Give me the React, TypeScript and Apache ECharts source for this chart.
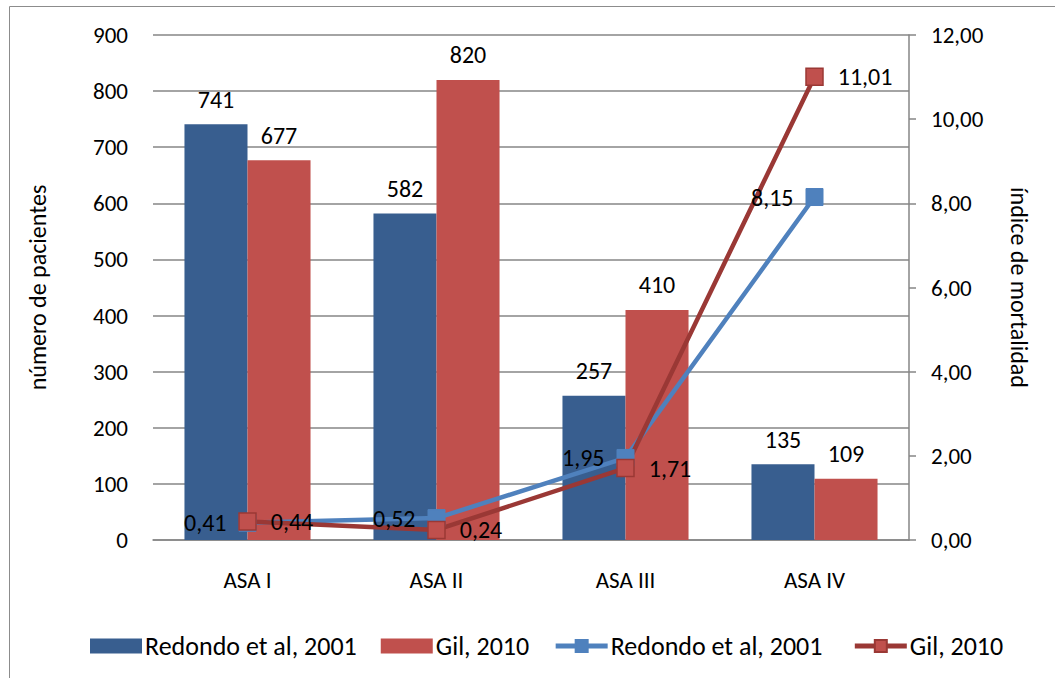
import React, { useEffect, useRef } from "react";
import * as echarts from "echarts";

const categories = ["ASA I", "ASA II", "ASA III", "ASA IV"];
const barRedondo = [741, 582, 257, 135];
const barGil = [677, 820, 410, 109];
const lineRedondo = [0.41, 0.52, 1.95, 8.15];
const lineGil = [0.44, 0.24, 1.71, 11.01];
const seriesNames = ["Redondo et al, 2001", "Gil, 2010"];

const FONT = "Carlito, Lato, sans-serif";

const comma = (v: number) => v.toFixed(2).replace(".", ",");

export default function App() {
  const ref = useRef<HTMLDivElement>(null);
  useEffect(() => {
    document.body.style.margin = "0";
    const chart = echarts.init(ref.current!, null, { renderer: "svg" });
    const tick = { fontFamily: FONT, fontSize: 23, color: "#000" };
    const lab = { fontFamily: FONT, fontSize: 24, color: "#000" };
    chart.setOption({
      animation: false,
      backgroundColor: "#fff",
      textStyle: { fontFamily: FONT },
      graphic: [
        {
          type: "rect",
          shape: { x: 9.5, y: 6.5, width: 1100, height: 700 },
          style: { fill: "none", stroke: "#8c8c8c", lineWidth: 1 },
          silent: true,
          z: -10,
        },
      ],
      grid: { left: 153, right: 146, top: 35, bottom: 138 },
      legend: {
        top: 628,
        left: 85,
        itemWidth: 52,
        itemHeight: 15,
        itemGap: 24,
        textStyle: { fontFamily: FONT, fontSize: 26, color: "#000", padding: [0, 0, 0, -2] },
        data: [
          { name: seriesNames[0], icon: "rect" },
          { name: seriesNames[1], icon: "rect" },
          {
            name: seriesNames[0] + " ",
            lineStyle: { width: 5, color: "#4F81BD" },
          },
          {
            name: seriesNames[1] + " ",
            lineStyle: { width: 5, color: "#9A3835" },
          },
        ],
      },
      xAxis: {
        type: "category",
        data: categories,
        axisLine: { lineStyle: { color: "#868686", width: 1.5 } },
        axisTick: { show: false },
        axisLabel: { ...tick, margin: 28 },
      },
      yAxis: [
        {
          type: "value",
          min: 0,
          max: 900,
          interval: 100,
          name: "número de pacientes",
          nameLocation: "middle",
          nameGap: 104,
          nameRotate: 90,
          nameTextStyle: lab,
          axisLine: { show: false },
          axisTick: { show: false },
          axisLabel: { ...tick, margin: 25 },
          splitLine: { lineStyle: { color: "#868686", width: 1.5 } },
        },
        {
          type: "value",
          min: 0,
          max: 12,
          interval: 2,
          position: "right",
          name: "índice de mortalidad",
          nameLocation: "middle",
          nameGap: 98,
          nameRotate: -90,
          nameTextStyle: lab,
          axisLine: { show: true, lineStyle: { color: "#868686", width: 1.5 } },
          axisTick: { show: true, length: 7, lineStyle: { color: "#868686", width: 1.5 } },
          axisLabel: { ...tick, margin: 22, formatter: (v: number) => comma(v) },
          splitLine: { show: false },
        },
      ],
      series: [
        {
          name: seriesNames[0],
          type: "bar",
          data: barRedondo,
          barGap: "0%",
          barCategoryGap: "33.3%",
          itemStyle: { color: "#385E8F" },
          label: { show: true, position: "top", distance: 13, ...lab },
        },
        {
          name: seriesNames[1],
          type: "bar",
          data: barGil,
          itemStyle: { color: "#C0504D" },
          label: { show: true, position: "top", distance: 13, ...lab },
        },
        {
          name: seriesNames[0] + " ",
          type: "line",
          yAxisIndex: 1,
          data: lineRedondo,
          symbol: "rect",
          symbolSize: 17,
          lineStyle: { color: "#4F81BD", width: 4.5 },
          itemStyle: { color: "#4F81BD", borderColor: "#4F81BD", borderWidth: 1 },
          label: {
            show: true,
            position: "left",
            distance: 12,
            ...lab,
            formatter: (p: any) => comma(p.value),
          },
        },
        {
          name: seriesNames[1] + " ",
          type: "line",
          yAxisIndex: 1,
          data: lineGil,
          symbol: "rect",
          symbolSize: 17,
          lineStyle: { color: "#9A3835", width: 4.5 },
          itemStyle: { color: "#C0504D", borderColor: "#9A3835", borderWidth: 1.5 },
          label: {
            show: true,
            position: "right",
            distance: 14,
            ...lab,
            formatter: (p: any) => comma(p.value),
          },
        },
      ],
    });
    return () => chart.dispose();
  }, []);
  return <div ref={ref} style={{ width: 1055, height: 678 }} />;
}
